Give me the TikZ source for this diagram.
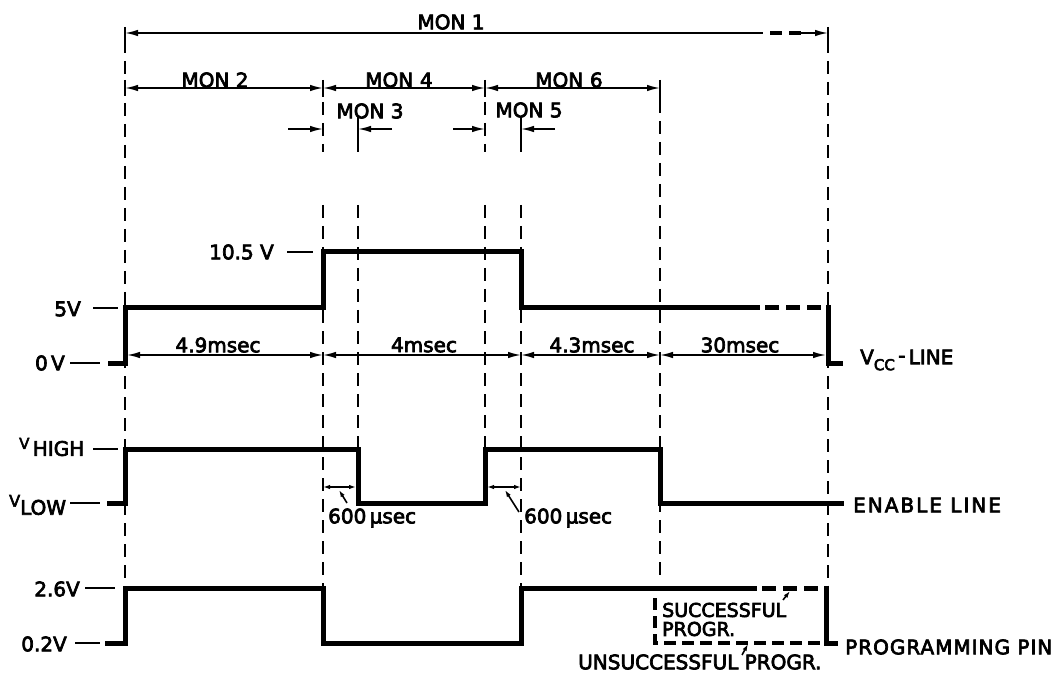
\documentclass[tikz,border=0pt]{standalone}
\usepackage{fontspec}
\setmainfont{DejaVu Sans}[FakeBold=3.5]
\newfontfamily\widefont{DejaVu Sans}[LetterSpace=10,FakeBold=3.5]
\newfontfamily\medfont{DejaVu Sans}[LetterSpace=5,FakeBold=3.5]
\usetikzlibrary{arrows.meta}
\begin{document}
\begin{tikzpicture}[x=1pt,y=-1pt,
  thin/.style={line width=1.6pt},
  sig/.style={line width=5pt},
  sigd/.style={line width=5pt,dash pattern=on 14pt off 7pt},
  dsh/.style={line width=1.8pt,dash pattern=on 13pt off 8pt},
  tip/.tip={Latex[length=13pt,width=6.5pt]},
  stip/.tip={Latex[length=7pt,width=4.5pt]},
  lbl/.style={font=\fontsize{20}{22}\selectfont, inner sep=0pt},
]
\useasboundingbox (0,0) rectangle (1061,679);
% ---------- MON dimension lines ----------
\node[lbl] (mon1) at (451,22) {MON 1};
\draw[thin,tip-] (125,33) -- (763,33);
\draw[line width=4pt,dash pattern=on 12pt off 7pt] (770,33) -- (806,33);
\draw[thin,-tip] (800,33) -- (828,33);
\draw[thin] (125,27) -- (125,40) (828,27) -- (828,40);

\node[lbl] (mon2) at (215,80) {MON 2};
\node[lbl] (mon4) at (399,80) {MON\,\,4};
\node[lbl] (mon6) at (569,80) {MON\,\,6};
\draw[thin,tip-tip] (125,88) -- (323,88);
\draw[thin,tip-tip] (323,88) -- (485,88);
\draw[thin,tip-tip] (485,88) -- (660,88);
\draw[thin] (125,80) -- (125,96) (323,80) -- (323,97) (485,80) -- (485,97) (660,80) -- (660,100);

\node[lbl] (mon3) at (370,111) {MON 3};
\node[lbl] (mon5) at (529,110) {MON 5};
\draw[thin,-tip] (288,129) -- (323,129);
\draw[thin,-tip] (392,129) -- (358,129);
\draw[thin,-tip] (453,129) -- (485,129);
\draw[thin,-tip] (555,129) -- (521,129);
\draw[thin] (358,117) -- (358,152) (521,117) -- (521,152);

% ---------- vertical dashed guides ----------
\draw[dsh] (125,40) -- (125,588);
\draw[dsh] (323,102) -- (323,152);
\draw[dsh] (323,205) -- (323,588);
\draw[dsh] (358,205) -- (358,449);
\draw[dsh] (485,102) -- (485,152);
\draw[dsh] (485,205) -- (485,449);
\draw[dsh] (521,205) -- (521,588);
\draw[dsh] (660,100) -- (660,582);
\draw[dsh] (828,40) -- (828,578);

% ---------- Vcc line ----------
\node[lbl,anchor=east] (v105) at (274,252) {10.5 V};
\draw[thin] (287,252) -- (313,252);
\node[lbl,anchor=east] (v5) at (81,309) {5V};
\draw[thin] (93,308) -- (118,308);
\node[lbl,anchor=east] (v0) at (65,363) {0\,V};
\draw[thin] (70,363) -- (100,363);
\draw[sig] (108,363) -- (125,363) -- (125,308) -- (323,308) -- (323,252)
  -- (521,252) -- (521,308) -- (760,308);
\draw[sigd] (765,308) -- (826,308);
\draw[sig] (828,305.5) -- (828,363) -- (843,363);

\node[lbl] (t1) at (218,345) {4.9msec};
\node[lbl] (t2) at (424,345) {4msec};
\node[lbl] (t3) at (592,345) {4.3msec};
\node[lbl] (t4) at (740,345) {30msec};
\draw[thin,tip-tip] (127,355) -- (323,355);
\draw[thin,tip-tip] (323,355) -- (521,355);
\draw[thin,tip-tip] (521,355) -- (660,355);
\draw[thin,tip-tip] (660,355) -- (826,355);
\node[lbl,anchor=west] (vcc) at (860,360)
  {V\raisebox{-6pt}{\fontsize{15}{15}\selectfont CC}\,\raisebox{2pt}{-}\,LINE};

% ---------- Enable line ----------
\node[lbl,anchor=west] (vhigh) at (19,447)
  {\raisebox{7pt}{\fontsize{15}{15}\selectfont V}\,HIGH};
\draw[thin] (93,449) -- (118,449);
\node[lbl,anchor=west] (vlow) at (9,505)
  {\raisebox{8pt}{\fontsize{16}{16}\selectfont V}LOW};
\draw[thin] (70,503) -- (100,503);
\draw[sig] (107,503) -- (125,503) -- (125,449) -- (358,449) -- (358,503)
  -- (485,503) -- (485,449) -- (660,449) -- (660,503) -- (844,503);
\node[lbl,anchor=west] (en) at (853,505) {\widefont ENABLE LINE};

\draw[thin,stip-stip] (323,487) -- (356,487);
\draw[thin,stip-stip] (487,487) -- (521,487);
\draw[thin,-stip] (347,503) -- (339,490);
\draw[thin,-stip] (519,512) -- (505,490);
\node[lbl,anchor=west] (us1) at (328,518) {600\,µsec};
\node[lbl,anchor=west] (us2) at (524,518) {600\,µsec};

% ---------- Programming pin ----------
\node[lbl,anchor=east] (v26) at (80,589) {2.6V};
\draw[thin] (85,588) -- (115,588);
\node[lbl,anchor=east] (v02) at (67,644) {0.2V};
\draw[thin] (75,643) -- (100,643);
\draw[sig] (105,643) -- (125,643) -- (125,588) -- (323,588) -- (323,643)
  -- (521,643) -- (521,588) -- (757,588);
\draw[sigd] (762,588) -- (823,588);
\draw[sig] (826,585.5) -- (826,643) -- (838,643);
\draw[line width=3.5pt,dash pattern=on 12pt off 6pt] (655,598) -- (655,643) -- (822,643);
\node[lbl,anchor=west] (pp) at (845,647) {\medfont PROGRAMMING PIN};

\node[lbl,anchor=west,font=\fontsize{19}{19}\selectfont] (succ) at (662,610) {SUCCESSFUL};
\node[lbl,anchor=west,font=\fontsize{19}{19}\selectfont] (succ2) at (662,629) {PROGR.};
\draw[thin,-stip] (783,600) -- (790,591);
\node[lbl,anchor=west] (unsucc) at (578,662) {UNSUCCESSFUL PROGR.};
\draw[thin,-stip] (742,655) -- (748,644);
\end{tikzpicture}
\end{document}
